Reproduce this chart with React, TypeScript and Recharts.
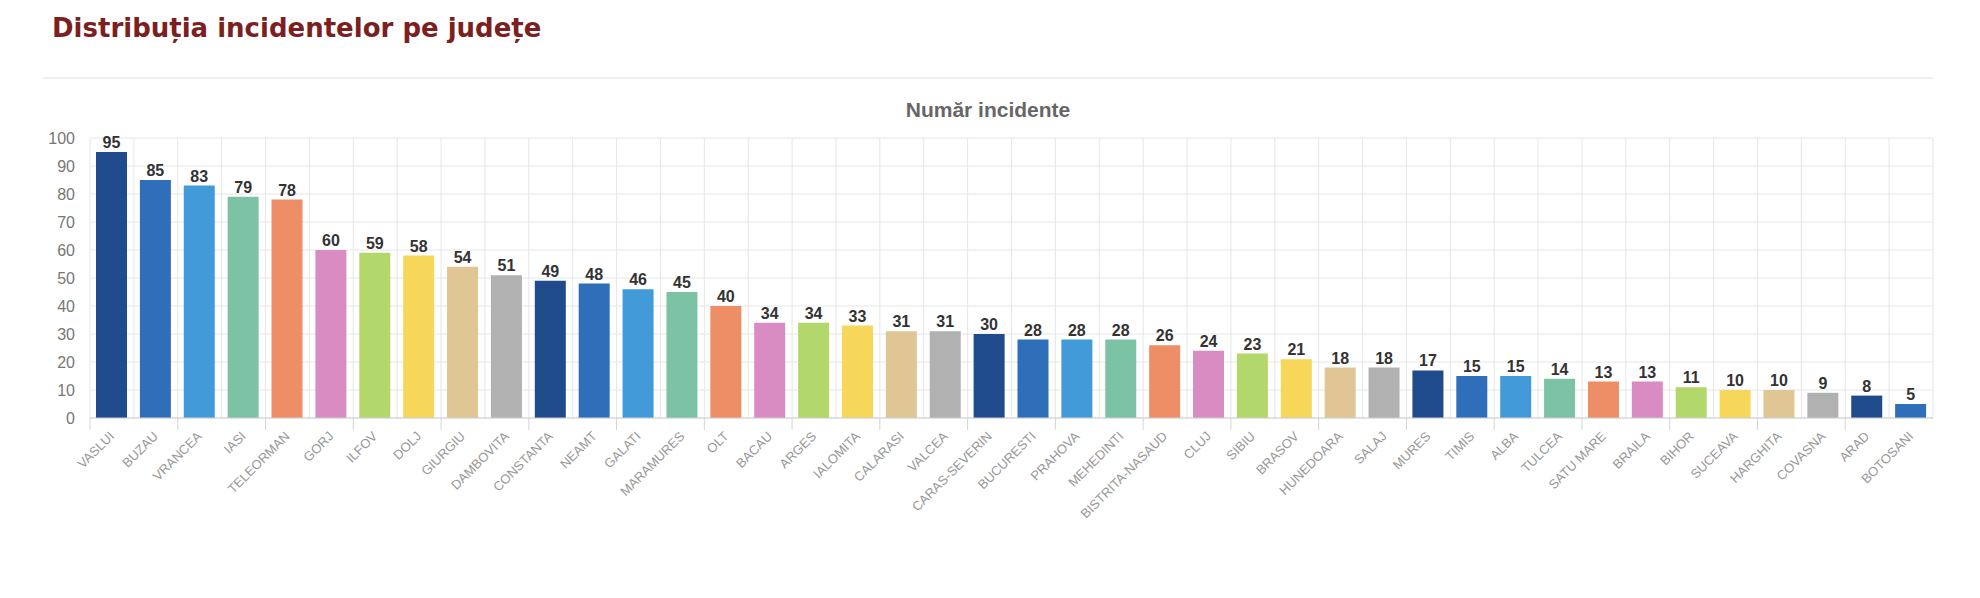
import { BarChart, Bar, XAxis, YAxis, CartesianGrid, Cell, LabelList } from 'recharts';

const counties = [
  'VASLUI', 'BUZAU', 'VRANCEA', 'IASI', 'TELEORMAN', 'GORJ', 'ILFOV', 'DOLJ', 'GIURGIU', 'DAMBOVITA',
  'CONSTANTA', 'NEAMT', 'GALATI', 'MARAMURES', 'OLT', 'BACAU', 'ARGES', 'IALOMITA', 'CALARASI', 'VALCEA',
  'CARAS-SEVERIN', 'BUCURESTI', 'PRAHOVA', 'MEHEDINTI', 'BISTRITA-NASAUD', 'CLUJ', 'SIBIU', 'BRASOV',
  'HUNEDOARA', 'SALAJ', 'MURES', 'TIMIS', 'ALBA', 'TULCEA', 'SATU MARE', 'BRAILA', 'BIHOR', 'SUCEAVA',
  'HARGHITA', 'COVASNA', 'ARAD', 'BOTOSANI',
];

const incidents = [
  95, 85, 83, 79, 78, 60, 59, 58, 54, 51,
  49, 48, 46, 45, 40, 34, 34, 33, 31, 31,
  30, 28, 28, 28, 26, 24, 23, 21,
  18, 18, 17, 15, 15, 14, 13, 13, 11, 10,
  10, 9, 8, 5,
];

const yTicks = [0, 10, 20, 30, 40, 50, 60, 70, 80, 90, 100];

const palette = [
  '#1f4a8c', '#2f6fba', '#439ad8', '#7cc3a6', '#ee8e67',
  '#d88cc2', '#b2d86b', '#f6d75a', '#e0c595', '#b1b1b1',
];

const data = counties.map((name, i) => ({ name, value: incidents[i] }));

const FONT = '"Liberation Sans", Arial, sans-serif';
const STEP = (1933 - 90) / counties.length;

function CountyTick(props: any) {
  const { x, y, payload, index } = props;
  const bx = x - STEP / 2;
  return (
    <g>
      {index % 2 === 0 && <line x1={bx} y1={y - 8} x2={bx} y2={y + 4} stroke="#d4d4d4" />}
      <text
        x={x + 3}
        y={y + 11}
        textAnchor="end"
        fontSize={13}
        fontFamily={FONT}
        fill="#999"
        transform={`rotate(-45, ${x + 3}, ${y + 11})`}
      >
        {payload.value}
      </text>
    </g>
  );
}

export default function App() {
  return (
    <div style={{ position: 'absolute', left: 0, top: 0, width: 1980, height: 598, background: '#fff' }}>
      <div
        style={{
          position: 'absolute',
          left: 52,
          top: 15,
          fontFamily: '"DejaVu Sans", sans-serif',
          fontWeight: 'bold',
          fontSize: 26,
          lineHeight: '26px',
          color: '#7c1f1f',
          whiteSpace: 'nowrap',
        }}
      >
        Distribuția incidentelor pe județe
      </div>
      <div style={{ position: 'absolute', left: 43, top: 77, width: 1890, height: 2, background: '#efefef' }} />
      <div
        style={{
          position: 'absolute',
          left: 788,
          top: 99,
          width: 400,
          textAlign: 'center',
          fontFamily: FONT,
          fontWeight: 'bold',
          fontSize: 21,
          lineHeight: '21px',
          color: '#666',
        }}
      >
        Număr incidente
      </div>
      <div style={{ position: 'absolute', left: 0, top: 0 }}>
        <BarChart
          width={1980}
          height={598}
          data={data}
          margin={{ top: 138, right: 47, bottom: 0, left: 0 }}
        >
          <CartesianGrid
            stroke="#e6e6e6"
            verticalCoordinatesGenerator={({ offset }: any) =>
              counties.map((_, i) => offset.left + (i * offset.width) / counties.length).concat(offset.left + offset.width)
            }
          />
          <XAxis
            dataKey="name"
            interval={0}
            tickLine={false}
            axisLine={{ stroke: '#cfcfcf' }}
            tick={<CountyTick />}
            height={180}
          />
          <YAxis
            width={90}
            domain={[0, 100]}
            ticks={yTicks}
            interval={0}
            tickLine={false}
            axisLine={false}
            tickSize={13}
            tickMargin={2}
            tick={{ fontSize: 16, fontFamily: FONT, fill: '#777' }}
          />
          <Bar dataKey="value" barSize={31} isAnimationActive={false}>
            {data.map((d, i) => (
              <Cell key={d.name} fill={palette[i % palette.length]} />
            ))}
            <LabelList
              dataKey="value"
              position="top"
              offset={4}
              fill="#333"
              fontSize={16}
              fontWeight="bold"
              fontFamily={FONT}
            />
          </Bar>
        </BarChart>
      </div>
    </div>
  );
}
